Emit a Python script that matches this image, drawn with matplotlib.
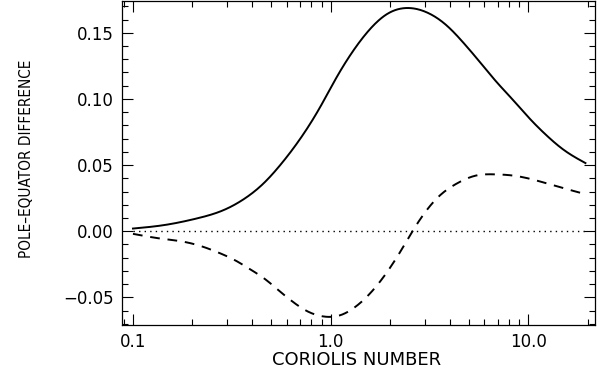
import matplotlib
matplotlib.use("Agg")
import matplotlib.pyplot as plt
import numpy as np

# Data
coriolis_solid = [0.10, 0.142, 0.210, 0.286, 0.361, 0.457, 0.555, 0.674, 0.885, 1.074, 1.304,
                  1.585, 1.93, 2.43, 3.07, 3.87, 4.70, 5.71, 6.94, 8.43, 10.2, 12.4, 15.1, 19.5]
diff_solid = [0.0020, 0.0045, 0.0096, 0.0158, 0.0239, 0.0360, 0.0498, 0.0661, 0.0937, 0.1164,
              0.1365, 0.1528, 0.1641, 0.1687, 0.1654, 0.1555, 0.1425, 0.1277, 0.1126, 0.0988,
              0.0850, 0.0724, 0.0616, 0.0515]

coriolis_dashed = [0.10, 0.137, 0.173, 0.218, 0.270, 0.328, 0.391, 0.466, 0.544, 0.637, 0.743,
                   0.938, 1.12, 1.304, 1.585, 1.93, 2.34, 2.60, 2.95, 3.58, 4.35, 5.50, 6.67,
                   8.43, 10.6, 13.4, 19.5]
diff_dashed = [-0.0020, -0.0055, -0.0075, -0.0110, -0.0161, -0.0219, -0.0287, -0.0362, -0.0445,
               -0.0528, -0.0596, -0.0646, -0.0635, -0.0583, -0.0470, -0.0310, -0.0115, 0.0,
               0.0125, 0.0271, 0.0360, 0.0422, 0.0430, 0.0420, 0.0390, 0.0347, 0.0280]

zero_x = [0.1, 19.5]
zero_y = [0.0, 0.0]

xticks = [0.1, 1.0, 10.0]
xticklabels = ["0.1", "1.0", "10.0"]
yticks = [-0.05, 0.0, 0.05, 0.10, 0.15]
yticklabels = ["\u22120.05", "0.00", "0.05", "0.10", "0.15"]


def natural_spline(xs, ys, n=500):
    """Smooth drawing curve through the read points (natural cubic spline in log x)."""
    x = np.log10(np.asarray(xs, float))
    y = np.asarray(ys, float)
    k = len(x)
    h = np.diff(x)
    A = np.zeros((k, k))
    b = np.zeros(k)
    A[0, 0] = A[-1, -1] = 1.0
    for i in range(1, k - 1):
        A[i, i - 1] = h[i - 1]
        A[i, i] = 2 * (h[i - 1] + h[i])
        A[i, i + 1] = h[i]
        b[i] = 6 * ((y[i + 1] - y[i]) / h[i] - (y[i] - y[i - 1]) / h[i - 1])
    M = np.linalg.solve(A, b)
    t = np.linspace(x[0], x[-1], n)
    idx = np.clip(np.searchsorted(x, t) - 1, 0, k - 2)
    xi, xi1 = x[idx], x[idx + 1]
    hi = h[idx]
    out = (M[idx] * (xi1 - t) ** 3 / (6 * hi) + M[idx + 1] * (t - xi) ** 3 / (6 * hi)
           + (y[idx] / hi - M[idx] * hi / 6) * (xi1 - t)
           + (y[idx + 1] / hi - M[idx + 1] * hi / 6) * (t - xi))
    return 10 ** t, out


fig = plt.figure(figsize=(6.03, 3.74), dpi=100)
ax = fig.add_axes([122 / 603, 1 - 325 / 374, (595 - 122) / 603, 324 / 374])

xs, ys = natural_spline(coriolis_solid, diff_solid)
ax.plot(xs, ys, color="black", lw=1.4)
xd, yd = natural_spline(coriolis_dashed, diff_dashed)
ax.plot(xd, yd, color="black", lw=1.4, linestyle=(0, (5, 4)))
ax.plot(zero_x, zero_y, color="black", lw=1.0, linestyle=(0, (1, 3)))

ax.set_xscale("log")
ax.set_xlim(0.088, 21.8)
ax.set_ylim(-0.0709, 0.174)
ax.set_xticks(xticks)
ax.set_xticklabels(xticklabels)
ax.set_yticks(yticks)
ax.set_yticklabels(yticklabels)
ax.yaxis.set_minor_locator(matplotlib.ticker.MultipleLocator(0.01))
ax.xaxis.set_minor_formatter(matplotlib.ticker.NullFormatter())

ax.tick_params(which="both", direction="in", top=True, right=True, color="black", width=0.8)
ax.tick_params(which="major", length=8, labelsize=12, pad=6)
ax.tick_params(which="minor", length=4.5)
for sp in ax.spines.values():
    sp.set_linewidth(0.9)

ax.set_xlabel("CORIOLIS NUMBER", fontsize=13)
ax.xaxis.set_label_coords(0.496, -0.080)
ax.set_ylabel("POLE\u2013EQUATOR DIFFERENCE", fontsize=11, fontstretch="condensed")
ax.yaxis.set_label_coords(-0.185, 0.512)

fig.savefig("out.png", dpi=100)
